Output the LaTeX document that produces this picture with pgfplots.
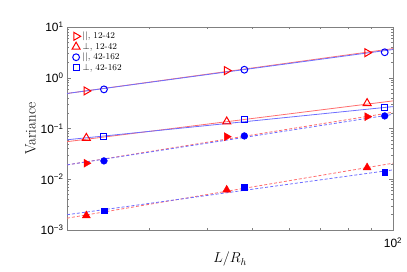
\documentclass[border=0pt]{standalone}
\usepackage{fontspec}
\usepackage{pgfplots}
\pgfplotsset{compat=1.18}
\usetikzlibrary{calc}
\newfontfamily\hv{Liberation Sans}
\definecolor{lred}{RGB}{255,110,110}
\definecolor{lblue}{RGB}{110,110,255}
\definecolor{axgray}{RGB}{128,128,128}
\definecolor{mred}{RGB}{255,0,0}
\definecolor{mblue}{RGB}{0,0,255}
\begin{document}
\begin{tikzpicture}
\begin{axis}[name=ax, at={(0,0)}, anchor=south west,
 scale only axis, width=326bp, height=203bp,
 xmode=log, ymode=log, log basis x=10, log basis y=10,
 xmin=20, xmax=100, ymin=1e-3, ymax=10,
 xtick={100}, xticklabels={10\textsuperscript{2}},
 minor xtick={30,40,50,60,70,80,90},
 ytick={1e-3,1e-2,1e-1,1,10},
 yticklabels={10\textsuperscript{−3},10\textsuperscript{−2},10\textsuperscript{−1},10\textsuperscript{0},10\textsuperscript{1}},
 minor ytick={2e-3,3e-3,4e-3,5e-3,6e-3,7e-3,8e-3,9e-3,2e-2,3e-2,4e-2,5e-2,6e-2,7e-2,8e-2,9e-2,0.2,0.3,0.4,0.5,0.6,0.7,0.8,0.9,2,3,4,5,6,7,8,9},
 ticklabel style={font=\hv\fontsize{12}{13}\selectfont, text=black},
 xticklabel style={yshift=-4bp},
 axis line style={axgray}, every tick/.style={axgray, line width=0.5bp},
 tick align=inside, major tick length=4bp, minor tick length=2.5bp,
 xlabel={$L/R_h$}, ylabel={Variance},
 xlabel style={font=\fontsize{14}{15}\selectfont, at={(axis description cs:0.5,0)}, anchor=north, yshift=-22bp, inner sep=0pt},
 ylabel style={font=\fontsize{15}{16}\selectfont, at={(axis description cs:-0.095,0.5)}, anchor=south, inner sep=0pt},
 legend style={at={(rel axis cs:0.012,0.99)}, anchor=north west, draw=none, fill=none,
   font=\fontsize{9}{10}\selectfont, row sep=-1.5bp, inner sep=1bp, cells={anchor=west}},
 legend image code/.code={\draw[#1] plot coordinates {(0.12cm,0cm)};},
]
% fit lines
\addplot[forget plot, lred, line width=0.8bp] coordinates {(20,0.49) (100,3.75)};
\addplot[forget plot, lblue, line width=0.8bp] coordinates {(20,0.49) (100,3.6)};
\addplot[forget plot, lred, line width=0.8bp] coordinates {(20,0.055) (100,0.35)};
\addplot[forget plot, lblue, line width=0.8bp] coordinates {(20,0.060) (100,0.27)};
\addplot[forget plot, lred, line width=0.8bp, dash pattern=on 3bp off 2bp] coordinates {(20,0.0192) (100,0.209)};
\addplot[forget plot, lblue, line width=0.8bp, dash pattern=on 3bp off 2bp] coordinates {(20,0.0192) (100,0.19)};
\addplot[forget plot, lred, line width=0.8bp, dash pattern=on 3bp off 2bp] coordinates {(20,0.00171) (100,0.0207)};
\addplot[forget plot, lblue, line width=0.8bp, dash pattern=on 3bp off 2bp] coordinates {(20,0.0020) (100,0.0153)};
% open markers
\addplot[only marks, mark=triangle, mark size=4.6bp, mark options={draw=mred, fill=none, rotate=-90, line width=1bp}] coordinates {(22,0.55) (44,1.38) (88,3.12)};
\addlegendentry{$||$, 12-42}
\addplot[only marks, mark=triangle, mark size=4.6bp, mark options={draw=mred, fill=none, line width=1bp}] coordinates {(22,0.065) (44,0.137) (88,0.315)};
\addlegendentry{$\perp$, 12-42}
\addplot[only marks, mark=o, mark size=3.4bp, mark options={draw=mblue, fill=none, line width=1bp}] coordinates {(24,0.59) (48,1.44) (96,3.18)};
\addlegendentry{$||$, 42-162}
\addplot[only marks, mark=square, mark size=3bp, mark options={draw=mblue, fill=none, line width=1bp}] coordinates {(24,0.069) (48,0.148) (96,0.258)};
\addlegendentry{$\perp$, 42-162}
% filled markers
\addplot[forget plot, only marks, mark=triangle*, mark size=4.6bp, mark options={draw=mred, fill=mred, rotate=-90}] coordinates {(22,0.0207) (44,0.069) (88,0.171)};
\addplot[forget plot, only marks, mark=triangle*, mark size=4.6bp, mark options={draw=mred, fill=mred}] coordinates {(22,0.00193) (44,0.00618) (88,0.0170)};
\addplot[forget plot, only marks, mark=*, mark size=3.4bp, mark options={draw=mblue, fill=mblue}] coordinates {(24,0.023) (48,0.0714) (96,0.177)};
\addplot[forget plot, only marks, mark=square*, mark size=2.9bp, mark options={draw=mblue, fill=mblue}] coordinates {(24,0.00239) (48,0.00687) (96,0.01355)};
\end{axis}
\path ($(ax.south west)+(-67bp,-42bp)$) rectangle ($(ax.north east)+(14bp,27bp)$);
\end{tikzpicture}
\end{document}
